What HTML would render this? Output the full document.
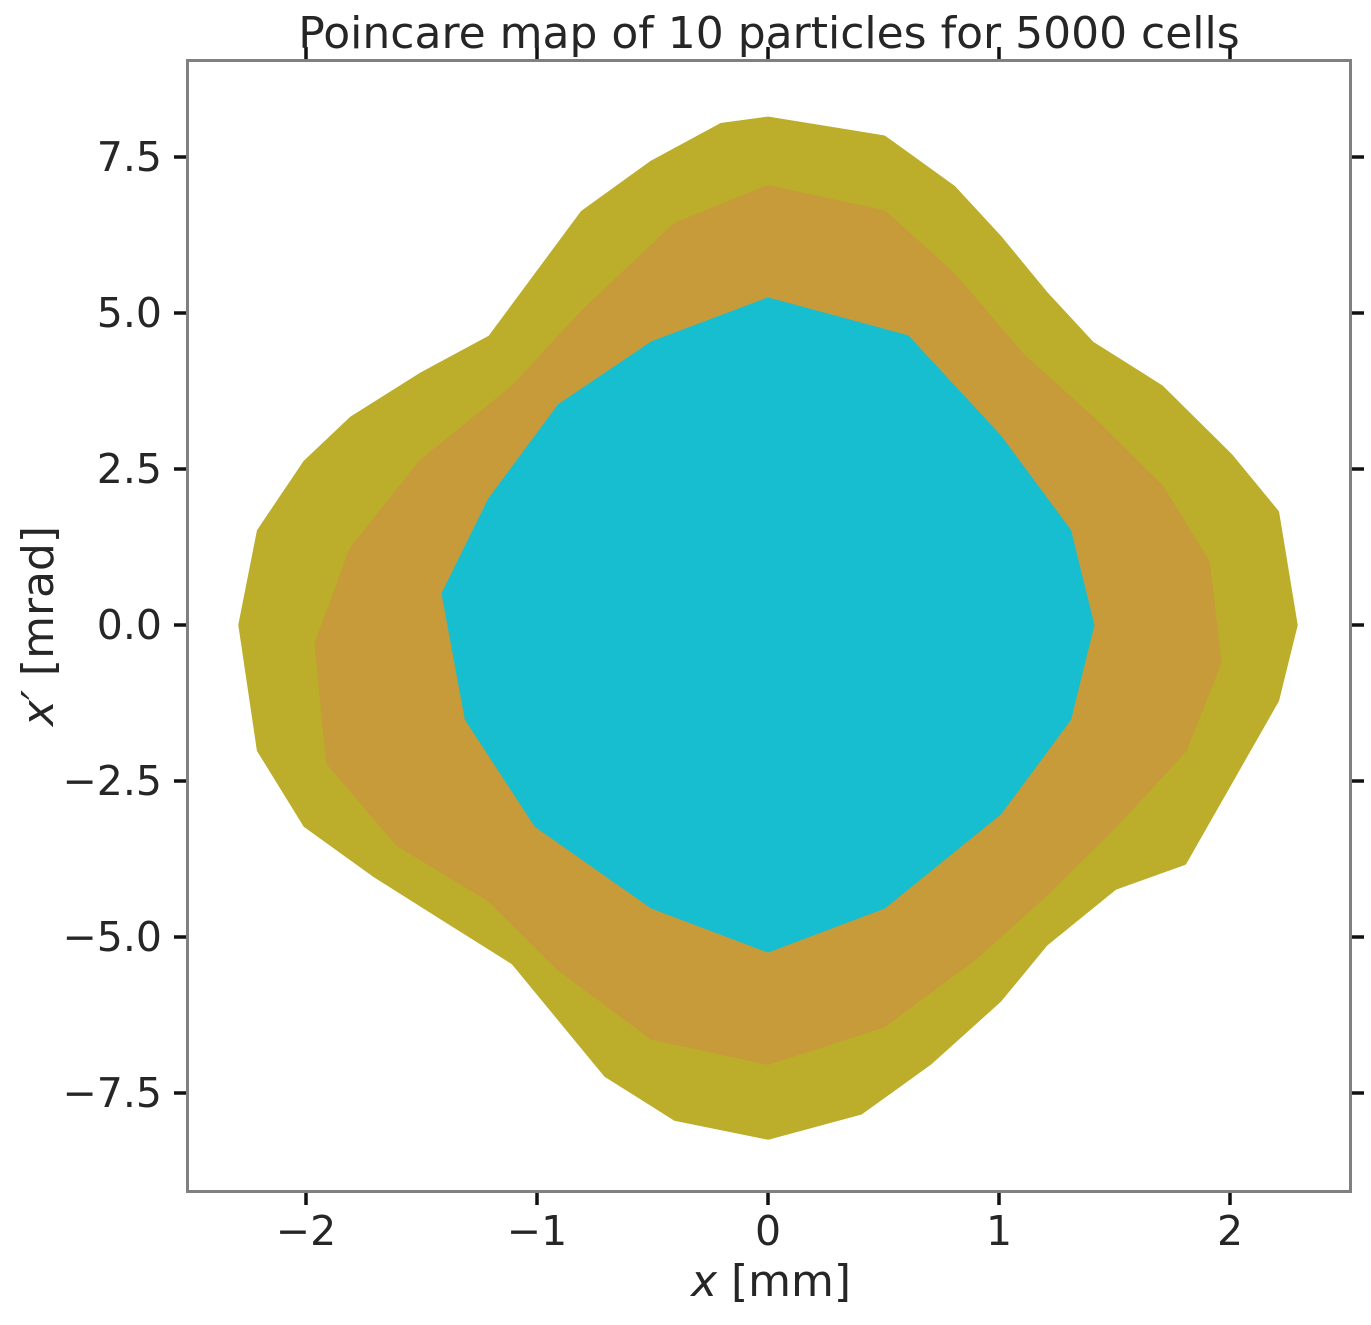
<!DOCTYPE html>
<html><head><meta charset="utf-8"><style>
body{margin:0;background:#fff}
svg text{font-family:"DejaVu Sans","Liberation Sans",sans-serif;fill:#262626}
</style></head><body>
<svg id="chart" width="1371" height="1320" viewBox="0 0 1371 1320" xmlns="http://www.w3.org/2000/svg">
<rect width="1371" height="1320" fill="#fff"/>
<g id="marks"></g>
<g id="axes"></g>
<rect x="187.5" y="60.5" width="1163" height="1131" fill="none" stroke="#808080" stroke-width="3"/>
<text x="769" y="48" font-size="44" text-anchor="middle">Poincare map of 10 particles for 5000 cells</text>
<text x="771" y="1296" font-size="44" text-anchor="middle"><tspan font-style="italic">x</tspan> [mm]</text>
<text transform="translate(53,626) rotate(-90)" font-size="44" text-anchor="middle"><tspan font-style="italic">x′</tspan> [mrad]</text>
</svg>
<script>
const xTicks=[-2,-1,0,1,2];
const yTicks=[-7.5,-5.0,-2.5,0.0,2.5,5.0,7.5];
const outerX=[0.0,0.5,0.8,1.0,1.2,1.4,1.7,2.0,2.2,2.28,2.2,2.0,1.8,1.5,1.2,1.0,0.7,0.4,0.0,-0.4,-0.7,-0.9,-1.1,-1.4,-1.7,-2.0,-2.2,-2.28,-2.2,-2.0,-1.8,-1.5,-1.2,-1.0,-0.8,-0.5,-0.2];
const outerY=[8.1,7.8,7.0,6.2,5.3,4.5,3.8,2.7,1.8,0.0,-1.2,-2.5,-3.8,-4.2,-5.1,-6.0,-7.0,-7.8,-8.2,-7.9,-7.2,-6.3,-5.4,-4.7,-4.0,-3.2,-2.0,0.0,1.5,2.6,3.3,4.0,4.6,5.6,6.6,7.4,8.0];
const midX=[0.0,0.5,0.8,1.1,1.4,1.7,1.9,1.95,1.8,1.5,1.2,0.9,0.5,0.0,-0.5,-0.9,-1.2,-1.6,-1.9,-1.95,-1.8,-1.5,-1.1,-0.8,-0.4];
const midY=[7.0,6.6,5.6,4.3,3.3,2.2,1.0,-0.6,-2.0,-3.2,-4.3,-5.3,-6.4,-7.0,-6.6,-5.5,-4.4,-3.5,-2.2,-0.3,1.2,2.6,3.8,5.0,6.4];
const innerX=[0.0,0.6,1.0,1.3,1.4,1.3,1.0,0.5,0.0,-0.5,-1.0,-1.3,-1.4,-1.2,-0.9,-0.5];
const innerY=[5.2,4.6,3.0,1.5,0.0,-1.5,-3.0,-4.5,-5.2,-4.5,-3.2,-1.5,0.5,2.0,3.5,4.5];
const sx=v=>768+v*231, sy=v=>625-v*62.4;
const NS="http://www.w3.org/2000/svg";
const marks=document.getElementById('marks'), axes=document.getElementById('axes');
function poly(xs,ys,fill,name){
  const p=document.createElementNS(NS,'polygon');
  p.setAttribute('points',xs.map((x,i)=>sx(x)+','+sy(ys[i])).join(' '));
  p.setAttribute('fill',fill);
  p.setAttribute('stroke',fill);
  p.setAttribute('stroke-width','6');
  p.setAttribute('stroke-linejoin','round');
  
  
  marks.appendChild(p);
}
poly(outerX,outerY,'#bcad2a','outer-particle-region');
poly(midX,midY,'#c79a3a','mid-particle-region');
poly(innerX,innerY,'#17becf','inner-particle-region');
function line(x1,y1,x2,y2,name){
  const l=document.createElementNS(NS,'line');
  l.setAttribute('x1',x1);l.setAttribute('y1',y1);l.setAttribute('x2',x2);l.setAttribute('y2',y2);
  l.setAttribute('stroke','#111');l.setAttribute('stroke-width','3.5');
  
  
  axes.appendChild(l);
}
function txt(x,y,s,anchor,name){
  const t=document.createElementNS(NS,'text');
  t.setAttribute('x',x);t.setAttribute('y',y);t.setAttribute('font-size','41');t.setAttribute('text-anchor',anchor);
  t.textContent=s;
  
  
  axes.appendChild(t);
}
const fmt=v=>(v<0?'\u2212':'')+Math.abs(v);
xTicks.forEach(v=>{
  const x=sx(v);
  line(x,1193,x,1205,'x-tick');
  line(x,59,x,47,'x-tick-top');
  txt(x,1245,fmt(v),'middle','x-tick-label');
});
yTicks.forEach(v=>{
  const y=sy(v);
  line(186,y,174,y,'y-tick');
  line(1352,y,1364,y,'y-tick-right');
  txt(162,y+14,(v<0?'\u2212':'')+Math.abs(v).toFixed(1),'end','y-tick-label');
});
</script>
</body></html>
